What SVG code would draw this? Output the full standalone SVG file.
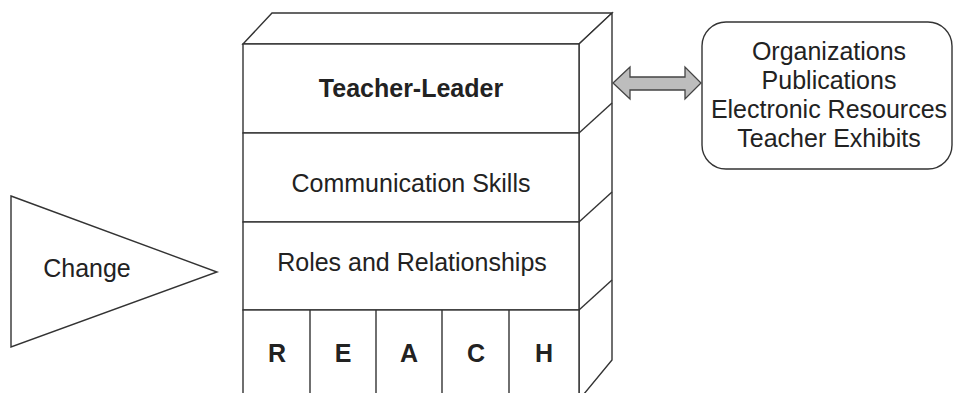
<svg xmlns="http://www.w3.org/2000/svg" width="953" height="393" viewBox="0 0 953 393">
  <style>
    .ln { fill: none; stroke: #333; stroke-width: 1.4; stroke-linejoin: miter; }
    .face { fill: #fff; stroke: #333; stroke-width: 1.4; }
    .t { font-family: "Liberation Sans", Arial, Helvetica, sans-serif; font-size: 25px; fill: #222; text-anchor: middle; }
    .b { font-weight: bold; }
    .arrow { fill: #bdbdbd; stroke: #444; stroke-width: 1.3; stroke-linejoin: miter; }
  </style>
  <rect width="953" height="393" fill="#fff"/>

  <!-- stacked block: top face and right side face -->
  <g id="block-3d">
    <polygon class="face" points="243,44 272,13 612,13 579,44"/>
    <polygon class="face" points="579,44 612,13 612,360 579,400"/>
    <line class="ln" x1="579" y1="133" x2="612" y2="103"/>
    <line class="ln" x1="579" y1="222" x2="612" y2="192"/>
    <line class="ln" x1="579" y1="310" x2="612" y2="280"/>
  </g>

  <g id="layer-teacher-leader">
    <rect class="face" x="243" y="44" width="336" height="89"/>
    <text class="t b" x="411" y="97">Teacher-Leader</text>
  </g>

  <g id="layer-communication">
    <rect class="face" x="243" y="133" width="336" height="89"/>
    <text class="t" x="411" y="192">Communication Skills</text>
  </g>

  <g id="layer-roles">
    <rect class="face" x="243" y="222" width="336" height="88"/>
    <text class="t" x="412" y="271">Roles and Relationships</text>
  </g>

  <g id="layer-reach">
    <rect class="face" x="243" y="310" width="336" height="90"/>
    <line class="ln" x1="310" y1="310" x2="310" y2="400"/>
    <line class="ln" x1="376" y1="310" x2="376" y2="400"/>
    <line class="ln" x1="442" y1="310" x2="442" y2="400"/>
    <line class="ln" x1="509" y1="310" x2="509" y2="400"/>
    <text class="t b" x="277" y="362">R</text>
    <text class="t b" x="343" y="362">E</text>
    <text class="t b" x="409" y="362">A</text>
    <text class="t b" x="476" y="362">C</text>
    <text class="t b" x="544" y="362">H</text>
  </g>

  <g id="change">
    <polygon class="face" points="11,196 217,272 11,347"/>
    <text class="t" x="87" y="277">Change</text>
  </g>

  <g id="resources">
    <rect class="face" x="702" y="22" width="250" height="147" rx="24" ry="24"/>
    <text class="t" x="829" y="60">Organizations</text>
    <text class="t" x="829" y="89">Publications</text>
    <text class="t" x="829" y="118">Electronic Resources</text>
    <text class="t" x="829" y="147">Teacher Exhibits</text>
  </g>

  <g id="connectors">
    <polygon class="arrow" points="613,83 630,67 630,77 685,77 685,67 701,83 685,99 685,90 630,90 630,99"/>
  </g>
</svg>
